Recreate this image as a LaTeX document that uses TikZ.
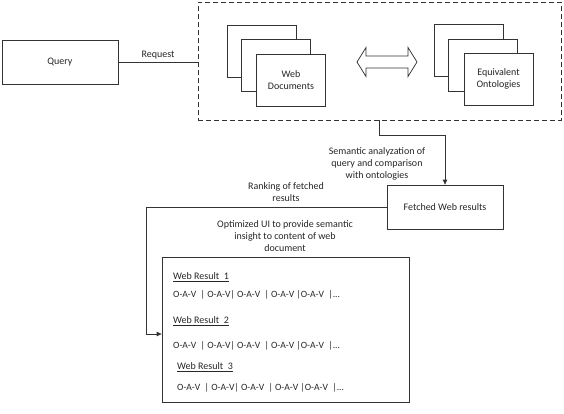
\documentclass[tikz,border=0pt]{standalone}
\usepackage{fontspec}
\setmainfont{Carlito}
\usetikzlibrary{arrows.meta,positioning}
\begin{document}
\begin{tikzpicture}[
        x=1pt,y=-1pt,
        every node/.style={font=\fontsize{10}{12}\selectfont,text=black!85},
        plain box/.style={draw=black!80,line width=0.75pt,fill=white,minimum width=116pt,minimum height=44pt,inner sep=0pt},
        doc box/.style={draw=black!80,line width=0.75pt,fill=white,minimum width=69pt,minimum height=52pt,inner sep=0pt,align=center},
        container box/.style={draw=black!80,line width=0.75pt,dash pattern=on 5pt off 3pt,minimum width=363pt,minimum height=118pt,inner sep=0pt},
        result box/.style={draw=black!80,line width=0.75pt,minimum width=247pt,minimum height=145pt,inner sep=0pt},
        link/.style={draw=black!80,line width=0.75pt},
        link arrow/.style={link,-{Triangle[length=5pt,width=4.5pt]}},
        note/.style={align=center,inner sep=0pt},
        row text/.style={anchor=west,inner sep=0pt},
        oav text/.style={row text,font=\fontsize{9.6}{11}\selectfont}
    ]
        \useasboundingbox (0,0) rectangle (564,413);

        \node[plain box] (query) at (60,62) {Query};
        \node[container box] (onto) at (379.5,61) {};

        \node[doc box] (webback) at (261.5,51) {};
        \node[doc box] (webmid) at (275.5,65.5) {};
        \node[doc box] (webfront) at (291,80) {Web\\Documents};

        \node[doc box] (eqback) at (468.5,50) {};
        \node[doc box] (eqmid) at (482.5,65) {};
        \node[doc box] (eqfront) at (498.5,79) {Equivalent\\Ontologies};

        \draw[link] (357,62) -- (366,47.5) -- (366,56) -- (408,56) -- (408,47.5)
            -- (417,62) -- (408,76.5) -- (408,68) -- (366,68) -- (366,76.5) -- cycle;

        \node[plain box] (fetched) at (445,207) {Fetched Web results};
        \node[result box] (results) at (285.5,329.5) {};

        \draw[link] (query.east) -- (query.east -| onto.west)
            node[midway,above=3pt,inner sep=0pt] {Request};
        \draw[link arrow] (onto.south) -- ++(0,15) -| (fetched.north);
        \draw[link arrow] (fetched.west) -- ++(-240,0) |- ([yshift=-4.5pt]results.west);

        \node[note] (semantic) at (377,164) {Semantic analyzation of\\query and comparison\\with ontologies};
        \node[note] (ranking) at (286,192.5) {Ranking of fetched\\results};
        \node[note] (optimized) at (285,236) {Optimized UI to provide semantic\\insight to content of web\\document};

        \node[row text] (res1) at (173,277) {\underline{Web Result~ 1}};
        \node[oav text] (oav1) at (173,295) {O-A-V~ | O-A-V| O-A-V~ | O-A-V |O-A-V~ |...};
        \node[row text] (res2) at (173,321) {\underline{Web Result~ 2}};
        \node[oav text] (oav2) at (173,346) {O-A-V~ | O-A-V| O-A-V~ | O-A-V |O-A-V~ |...};
        \node[row text] (res3) at (177,367) {\underline{Web Result~ 3}};
        \node[oav text] (oav3) at (177,388) {O-A-V~ | O-A-V| O-A-V~ | O-A-V |O-A-V~ |...};
\end{tikzpicture}
\end{document}
